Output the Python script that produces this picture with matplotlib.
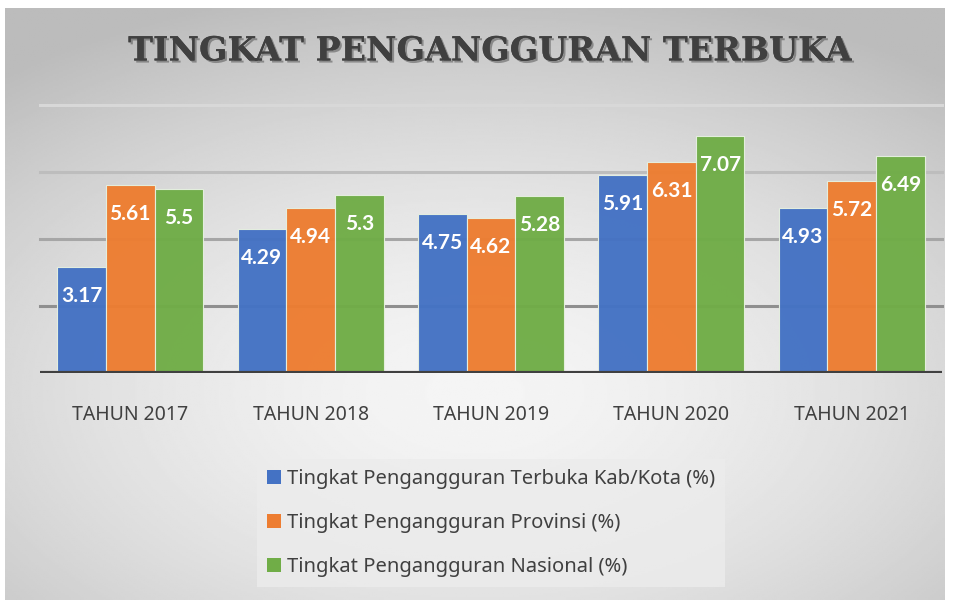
import numpy as np
import matplotlib
matplotlib.use("Agg")
import matplotlib.pyplot as plt
import matplotlib.patheffects as pe
from matplotlib.patches import Patch

# data
years = ["TAHUN 2017", "TAHUN 2018", "TAHUN 2019", "TAHUN 2020", "TAHUN 2021"]
kab_kota = [3.17, 4.29, 4.75, 5.91, 4.93]
provinsi = [5.61, 4.94, 4.62, 6.31, 5.72]
nasional = [5.5, 5.3, 5.28, 7.07, 6.49]
series_names = ["Tingkat Pengangguran Terbuka Kab/Kota (%)",
                "Tingkat Pengangguran Provinsi (%)",
                "Tingkat Pengangguran Nasional (%)"]
colors = ["#4472C4", "#ED7D31", "#70AD47"]

W, H = 961, 600
fig = plt.figure(figsize=(W/100, H/100), dpi=100)
fig.patch.set_facecolor("white")

# gray radial gradient background
bg = fig.add_axes([5/W, 0, 940/W, 1 - 8/H])
yy, xx = np.mgrid[-1:1:300j, -1:1:480j]
rr = np.sqrt((xx*0.9)**2 + ((yy - 0.3)*1.0)**2)
shade = 0.96 - 0.13*np.clip(rr, 0, 1.4)**1.6
bg.imshow(shade, cmap="gray", vmin=0, vmax=1, aspect="auto", extent=[0, 1, 0, 1])
bg.set_axis_off()

ax = fig.add_axes([40/W, 1 - 373/H, 902/W, 8.4*33.5/H])
ax.set_facecolor("none")
ax.set_xlim(-0.5, 4.5)
ax.set_ylim(0, 8.4)

grid_cols = {2: "#8f8f8f", 4: "#a6a6a6", 6: "#bdbdbd", 8: "#d8d8d8"}
for yv, c in grid_cols.items():
    ax.axhline(yv, color=c, lw=2.2, zorder=1, clip_on=False)

x = np.arange(len(years))
bw = 0.27
for i, (vals, c) in enumerate(zip([kab_kota, provinsi, nasional], colors)):
    bars = ax.bar(x + (i - 1)*bw, vals, bw, color=c, edgecolor="#e6f0e0",
                  linewidth=0.8, zorder=2, alpha=0.97)
    for b, v in zip(bars, vals):
        ax.annotate(f"{v:g}", (b.get_x() + b.get_width()/2, v),
                    xytext=(0, -29), textcoords="offset pixels",
                    ha="center", va="center", color="white", fontsize=15,
                    fontweight="bold", family="Lato", zorder=3)

ax.axhline(0, color="#404040", lw=3, zorder=4)
for s in ax.spines.values():
    s.set_visible(False)
ax.set_yticks([])
ax.set_xticks(x)
ax.set_xticklabels(years, fontsize=14, color="#404040", family="Noto Sans")
ax.tick_params(axis="x", length=0, pad=23)

fig.text(491/W, 1 - 51/H, "TINGKAT PENGANGGURAN TERBUKA", ha="center", va="center",
         fontsize=24, fontweight="bold", family="DejaVu Serif", color="#404040",
         path_effects=[pe.withSimplePatchShadow(offset=(1.5, -1.5), alpha=0.35),
                       pe.Normal()])

handles = [Patch(facecolor=c, edgecolor="none") for c in colors]
leg = fig.legend(handles, series_names, loc="center", bbox_to_anchor=(491/W, 1 - 523/H),
                 ncol=1, frameon=True, fancybox=False,
                 handlelength=0.7, handleheight=0.7, handletextpad=0.3,
                 labelspacing=1.2, borderpad=0.5, borderaxespad=0,
                 prop={"family": "Noto Sans", "size": 14.5})
leg.get_frame().set_facecolor("#ececec")
leg.get_frame().set_edgecolor("none")
leg.get_frame().set_alpha(0.8)
for t in leg.get_texts():
    t.set_color("#404040")

fig.savefig("out.png", dpi=100)
